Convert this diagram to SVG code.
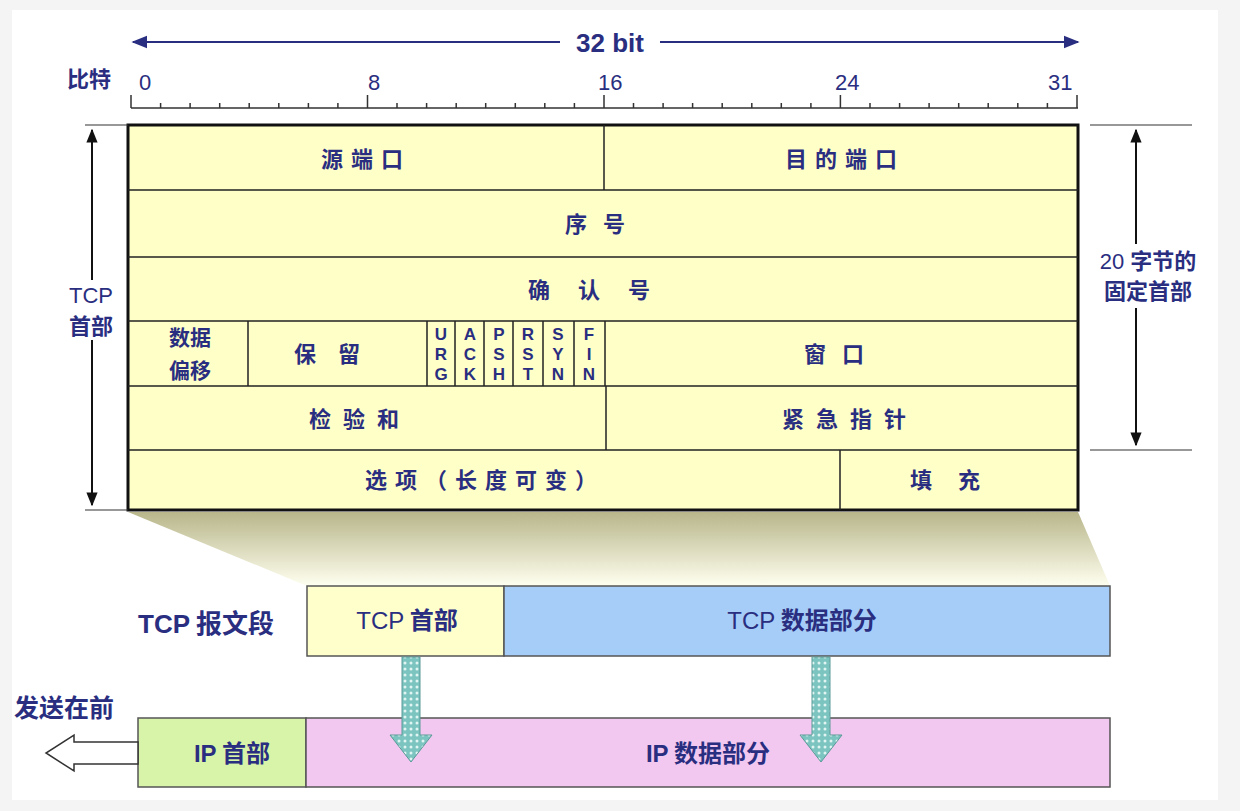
<svg xmlns="http://www.w3.org/2000/svg" width="1240" height="811" viewBox="0 0 1240 811">
<style>
.t{font-family:"Noto Sans CJK SC","Liberation Sans",sans-serif;font-weight:bold;fill:#2a2e80;}
.n{font-family:"Liberation Sans",sans-serif;fill:#2a2e80;}
.c{stroke:#222;stroke-width:1.5;fill:none}
</style>
<defs>
<marker id="ah" viewBox="0 0 10 10" refX="9" refY="5" markerWidth="8" markerHeight="8" orient="auto-start-reverse"><path d="M0,1 L10,5 L0,9 z" fill="#2a2e80"/></marker>
<marker id="ak" viewBox="0 0 10 10" refX="9" refY="5" markerWidth="7" markerHeight="9" orient="auto-start-reverse"><path d="M0,1 L10,5 L0,9 z" fill="#111"/></marker>
<linearGradient id="fun" x1="0" y1="0" x2="0" y2="1"><stop offset="0" stop-color="#b8b68a"/><stop offset="1" stop-color="#fffff0"/></linearGradient>
<pattern id="dots" width="6" height="6" patternUnits="userSpaceOnUse"><rect width="6" height="6" fill="#7cc4c0"/><circle cx="3" cy="3" r="1.5" fill="#e0f4f2"/></pattern>
</defs>
<rect width="1240" height="811" fill="#f4f4f4"/>
<rect x="12" y="10" width="1206" height="790" fill="#fff"/>
<g id="ruler">
<line x1="133" y1="42" x2="560" y2="42" stroke="#2a2e80" stroke-width="2" marker-start="url(#ah)"/>
<line x1="660" y1="42" x2="1078" y2="42" stroke="#2a2e80" stroke-width="2" marker-end="url(#ah)"/>
<text x="610" y="52" class="n" font-size="26" font-weight="bold" text-anchor="middle">32 bit</text>
<text x="67" y="87" class="t" font-size="22">比特</text>
<text x="139" y="90" class="n" font-size="22" fill="#666">0</text>
<text x="368" y="90" class="n" font-size="22" fill="#666">8</text>
<text x="598" y="90" class="n" font-size="22" fill="#666">16</text>
<text x="835" y="90" class="n" font-size="22" fill="#666">24</text>
<text x="1048" y="90" class="n" font-size="22" fill="#666">31</text>
<path d="M131,108 H1078 M131,95 V108 M160.6,103 V108 M190.1,103 V108 M219.7,103 V108 M249.2,103 V108 M278.8,103 V108 M308.4,103 V108 M337.9,103 V108 M367.5,95 V108 M397,103 V108 M426.6,103 V108 M456.2,103 V108 M485.7,103 V108 M515.3,103 V108 M544.8,103 V108 M574.4,103 V108 M604,95 V108 M633.5,103 V108 M663.1,103 V108 M692.6,103 V108 M722.2,103 V108 M751.8,103 V108 M781.3,103 V108 M810.9,103 V108 M840.4,95 V108 M870,103 V108 M899.6,103 V108 M929.1,103 V108 M958.7,103 V108 M988.2,103 V108 M1017.8,103 V108 M1047.4,103 V108 M1077,95 V108" stroke="#333" stroke-width="1.5" fill="none"/>
</g>
<g id="funnel"><polygon points="128,512 1078,512 1110,586 307,586" fill="url(#fun)"/></g>
<g id="header">
<rect x="128" y="125" width="950" height="385" fill="#ffffc8" stroke="#111" stroke-width="3"/>
<path class="c" d="M128,190 H1078 M128,257 H1078 M128,321 H1078 M128,386 H1078 M128,450 H1078 M604,125 V190 M248,321 V386 M427,321 V386 M455,321 V386 M484,321 V386 M513,321 V386 M543,321 V386 M574,321 V386 M605,321 V386 M606,386 V450 M840,450 V510"/>
<text x="366" y="167" class="t" font-size="22" text-anchor="middle" letter-spacing="8">源端口</text>
<text x="845" y="167" class="t" font-size="22" text-anchor="middle" letter-spacing="8">目的端口</text>
<text x="603" y="232" class="t" font-size="22" text-anchor="middle" letter-spacing="16">序号</text>
<text x="603" y="298" class="t" font-size="22" text-anchor="middle" letter-spacing="28">确认号</text>
<text x="190" y="345" class="t" font-size="21" text-anchor="middle">数据</text>
<text x="190" y="378" class="t" font-size="21" text-anchor="middle">偏移</text>
<text x="338" y="362" class="t" font-size="22" text-anchor="middle" letter-spacing="22">保留</text>
<g class="n" font-size="17" font-weight="bold" text-anchor="middle">
<text x="441" y="340">U</text><text x="441" y="360">R</text><text x="441" y="380">G</text>
<text x="470" y="340">A</text><text x="470" y="360">C</text><text x="470" y="380">K</text>
<text x="499" y="340">P</text><text x="499" y="360">S</text><text x="499" y="380">H</text>
<text x="528" y="340">R</text><text x="528" y="360">S</text><text x="528" y="380">T</text>
<text x="558" y="340">S</text><text x="558" y="360">Y</text><text x="558" y="380">N</text>
<text x="589" y="340">F</text><text x="589" y="360">I</text><text x="589" y="380">N</text>
</g>
<text x="842" y="362" class="t" font-size="22" text-anchor="middle" letter-spacing="16">窗口</text>
<text x="360" y="427" class="t" font-size="22" text-anchor="middle" letter-spacing="12">检验和</text>
<text x="850" y="427" class="t" font-size="22" text-anchor="middle" letter-spacing="12">紧急指针</text>
<text x="485" y="488" class="t" font-size="22" text-anchor="middle" letter-spacing="8">选项（长度可变）</text>
<text x="958" y="488" class="t" font-size="22" text-anchor="middle" letter-spacing="26">填充</text>
</g>
<g id="dims">
<path d="M85,125 H128 M85,510 H128 M1090,125 H1192 M1090,450 H1192" stroke="#333" stroke-width="1.2"/>
<line x1="92" y1="130" x2="92" y2="505" stroke="#111" stroke-width="2" marker-start="url(#ak)" marker-end="url(#ak)"/>
<line x1="1136" y1="130" x2="1136" y2="445" stroke="#111" stroke-width="2" marker-start="url(#ak)" marker-end="url(#ak)"/>
<rect x="60" y="280" width="62" height="60" fill="#fff"/>
<text x="91" y="303" class="n" font-size="22" fill="#3a3e8c" text-anchor="middle">TCP</text>
<text x="91" y="334" class="t" font-size="22" text-anchor="middle">首部</text>
<rect x="1088" y="244" width="120" height="64" fill="#fff"/>
<text x="1148" y="269" class="t" font-size="22" text-anchor="middle"><tspan class="n" font-weight="normal">20 </tspan>字节的</text>
<text x="1148" y="299" class="t" font-size="22" text-anchor="middle">固定首部</text>
</g>
<g id="tcpseg">
<text x="206" y="633" class="t" font-size="26" text-anchor="middle"><tspan class="n">TCP</tspan> 报文段</text>
<rect x="307" y="586" width="197" height="70" fill="#ffffcc" stroke="#555" stroke-width="1.5"/>
<rect x="504" y="586" width="606" height="70" fill="#a6cdf8" stroke="#555" stroke-width="1.5"/>
<text x="407" y="629" class="t" font-size="24" text-anchor="middle"><tspan class="n" font-weight="normal" fill="#555">TCP</tspan> 首部</text>
<text x="802" y="629" class="t" font-size="24" text-anchor="middle" fill="#3a4a8c"><tspan class="n" font-weight="normal" fill="#555">TCP</tspan> 数据部分</text>
</g>
<g id="ipdgram">
<rect x="138" y="718" width="168" height="69" fill="#d8f4a8" stroke="#555" stroke-width="1.5"/>
<rect x="306" y="718" width="804" height="69" fill="#f2c8f0" stroke="#555" stroke-width="1.5"/>
<text x="232" y="762" class="t" font-size="24" text-anchor="middle"><tspan class="n">IP</tspan> 首部</text>
<text x="708" y="762" class="t" font-size="24" text-anchor="middle"><tspan class="n">IP</tspan> 数据部分</text>
<text x="64" y="717" class="t" font-size="25" text-anchor="middle">发送在前</text>
</g>
<g id="connectors">
<path d="M402,657 H420 V735 H432 L411,762 L390,735 H402 Z" fill="url(#dots)" stroke="#5a9a98"/>
<path d="M812,657 H830 V735 H842 L821,762 L800,735 H812 Z" fill="url(#dots)" stroke="#5a9a98"/>
<path d="M138,742 H74 V735 L46,753 L74,771 V764 H138 Z" fill="#fff" stroke="#333" stroke-width="1.5"/>
</g>
</svg>
